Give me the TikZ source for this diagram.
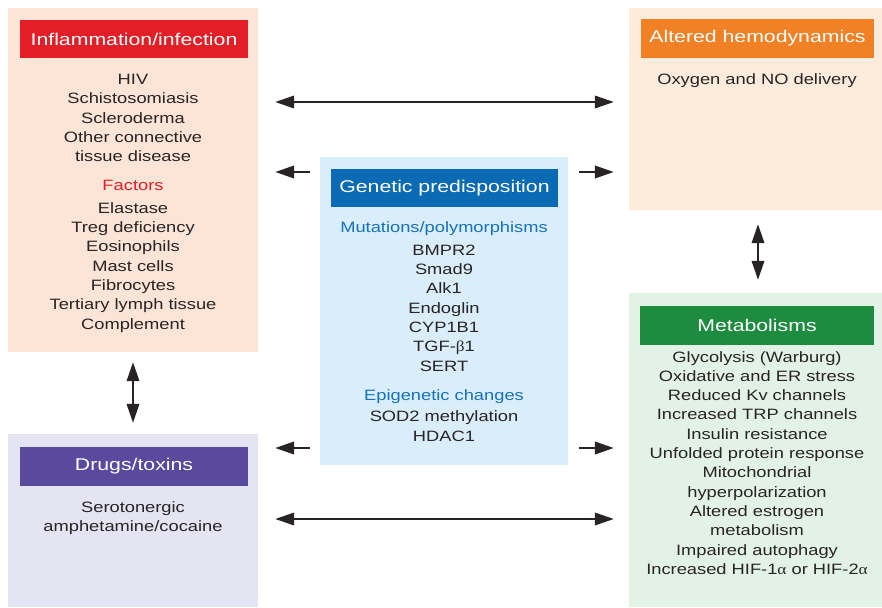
\documentclass[tikz,border=0pt]{standalone}
\usepackage{fontspec}
\setmainfont{Liberation Sans}[FakeStretch=1.22]
\newfontfamily\headfont{Liberation Sans}[FakeStretch=1.25]
\newfontfamily\grk{Liberation Serif}[FakeStretch=1.15]
\usetikzlibrary{arrows.meta}
\definecolor{ink}{RGB}{40,36,37}
\definecolor{inflbg}{RGB}{252,228,214}
\definecolor{inflhd}{RGB}{226,30,38}
\definecolor{hemobg}{RGB}{253,236,220}
\definecolor{hemohd}{RGB}{242,128,36}
\definecolor{genbg}{RGB}{217,238,250}
\definecolor{genhd}{RGB}{10,106,180}
\definecolor{gensub}{RGB}{22,114,186}
\definecolor{metabg}{RGB}{227,242,231}
\definecolor{metahd}{RGB}{30,140,62}
\definecolor{drugbg}{RGB}{228,228,242}
\definecolor{drughd}{RGB}{90,74,158}
\begin{document}
\begin{tikzpicture}[x=1pt, y=-1pt,
  panel/.style={rectangle, inner sep=0, draw=none},
  head/.style={rectangle, inner sep=0, text=white, minimum height=38.5pt, font=\headfont\fontsize{17}{19}\selectfont},
  list/.style={align=center, inner sep=0, anchor=north, text=ink, font=\fontsize{15}{19.3}\selectfont},
  link/.style={<->, >={Triangle[length=19pt, width=12.5pt]}, line width=2pt, ink},
  push/.style={->, >={Triangle[length=19pt, width=12.5pt]}, line width=2.3pt, ink}]
\useasboundingbox (0,0) rectangle (882,607);
\fill[white] (0,0) rectangle (882,607);

% panels
\node[panel, fill=inflbg, minimum width=250pt, minimum height=344pt] (infl) at (133,180) {};
\node[panel, fill=hemobg, minimum width=253pt, minimum height=202pt] (hemo) at (755.5,109) {};
\node[panel, fill=genbg, minimum width=248pt, minimum height=308pt] (gen) at (444,311) {};
\node[panel, fill=metabg, minimum width=253pt, minimum height=314pt] (meta) at (755.5,450) {};
\node[panel, fill=drugbg, minimum width=250pt, minimum height=173pt] (drug) at (133,520.5) {};

% headers
\node[head, fill=inflhd, minimum width=228pt] (inflhead) at (134,39) {Inflammation/infection};
\node[head, fill=hemohd, minimum width=233pt] (hemohead) at (757.5,38.5) {Altered hemodynamics};
\node[head, fill=genhd, minimum width=227pt] (genhead) at (444.5,188) {Genetic predisposition};
\node[head, fill=metahd, minimum width=234pt] (metahead) at (757,325.5) {Metabolisms};
\node[head, fill=drughd, minimum width=228pt] (drughead) at (134,466.5) {Drugs/toxins};

% contents
\node[list] (infllist) at (133,74) {HIV\\Schistosomiasis\\Scleroderma\\Other connective\\tissue disease\\[9.5pt]
  \textcolor{inflhd}{Factors}\\[3.5pt]Elastase\\Treg deficiency\\Eosinophils\\Mast cells\\Fibrocytes\\Tertiary lymph tissue\\Complement};
\node[list] (hemolist) at (757,73) {Oxygen and NO delivery};
\node[list] (genlist) at (444,221) {\textcolor{gensub}{Mutations/polymorphisms}\\[4pt]BMPR2\\Smad9\\Alk1\\Endoglin\\CYP1B1\\TGF-{\grk β}1\\SERT\\[10pt]
  \textcolor{gensub}{Epigenetic changes}\\[2pt]SOD2 methylation\\HDAC1};
\node[list] (metalist) at (757,351) {Glycolysis (Warburg)\\Oxidative and ER stress\\Reduced Kv channels\\Increased TRP channels\\Insulin resistance\\Unfolded protein response\\
  Mitochondrial\\hyperpolarization\\Altered estrogen\\metabolism\\Impaired autophagy\\Increased HIF-1{\grk α} or HIF-2{\grk α}};
\node[list] (druglist) at (133,501) {Serotonergic\\amphetamine/cocaine};

% connectors
\coordinate (rowa) at (0,102);
\coordinate (rowb) at (0,172);
\coordinate (rowc) at (0,448);
\coordinate (rowd) at (0,519);
\draw[link, shorten <=17pt, shorten >=15pt] (infl.east |- rowa) -- (hemo.west |- rowa);
\draw[link, shorten <=17pt, shorten >=15pt] (drug.east |- rowd) -- (meta.west |- rowd);
\draw[push, shorten <=10pt, shorten >=17pt] (gen.west |- rowb) -- (infl.east |- rowb);
\draw[push, shorten <=11pt, shorten >=15pt] (gen.east |- rowb) -- (hemo.west |- rowb);
\draw[push, shorten <=10pt, shorten >=17pt] (gen.west |- rowc) -- (drug.east |- rowc);
\draw[push, shorten <=11pt, shorten >=15pt] (gen.east |- rowc) -- (meta.west |- rowc);
\draw[link, shorten <=10pt, shorten >=11pt] (infl.south) -- (drug.north);
\draw[link, shorten <=14pt, shorten >=13pt] ([xshift=2.5pt]hemo.south) -- ([xshift=2.5pt]meta.north);
\end{tikzpicture}
\end{document}
